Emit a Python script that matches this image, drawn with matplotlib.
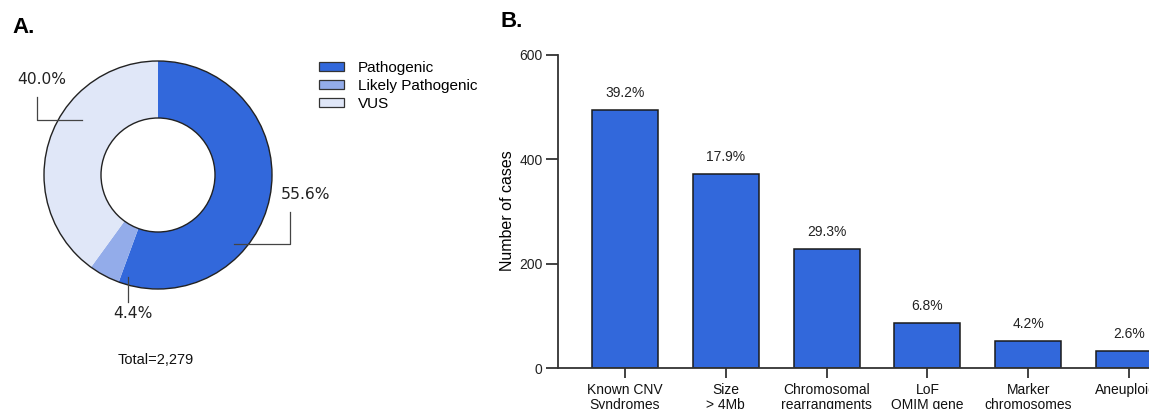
import matplotlib.pyplot as plt
from matplotlib.patches import Patch, Circle

# panel A data
pie_labels = ['Pathogenic', 'Likely Pathogenic', 'VUS']
pie_pct = [55.6, 4.4, 40.0]
pie_colors = ['#3268DB', '#93ACEA', '#E0E7F8']
total_text = 'Total=2,279'

# panel B data
categories = ['Known CNV\nSyndromes', 'Size\n> 4Mb', 'Chromosomal\nrearrangments',
              'LoF\nOMIM gene', 'Marker\nchromosomes', 'Aneuploidy']
counts = [495, 372, 228, 86, 52, 33]
bar_pct = ['39.2%', '17.9%', '29.3%', '6.8%', '4.2%', '2.6%']
bar_color = '#3268DB'

W, H = 1149, 409
fig = plt.figure(figsize=(W / 100, H / 100), dpi=100)

# ---------- A: donut ----------
R = 114.0
cx, cy = 158, 175
half = 1.3 * R
axA = fig.add_axes([(cx - half) / W, (H - cy - half) / H, 2 * half / W, 2 * half / H])
wedges, _ = axA.pie(pie_pct, colors=pie_colors, startangle=90, counterclock=False,
                    radius=1.0, wedgeprops=dict(width=0.5, linewidth=0))
axA.add_patch(Circle((0, 0), 1.0, fill=False, ec='#222222', lw=1.0))
axA.add_patch(Circle((0, 0), 0.5, fill=False, ec='#222222', lw=1.0))
axA.set_xlim(-1.3, 1.3)
axA.set_ylim(-1.3, 1.3)
axA.set_aspect('equal')
axA.axis('off')

lc = '#444444'
# leader lines + labels
axA.plot([-1.061, -1.061, -0.667], [0.684, 0.482, 0.482], color=lc, lw=0.9, clip_on=False)
axA.text(-1.02, 0.842, '40.0%', ha='center', va='center', fontsize=11.2,
         family='DejaVu Sans', color='#222222')
axA.plot([0.667, 1.158, 1.158], [-0.605, -0.605, -0.325], color=lc, lw=0.9, clip_on=False)
axA.text(1.29, -0.175, '55.6%', ha='center', va='center', fontsize=11.2,
         family='DejaVu Sans', color='#222222', clip_on=False)
axA.plot([-0.263, -0.263], [-0.895, -1.114], color=lc, lw=0.9, clip_on=False)
axA.text(-0.219, -1.219, '4.4%', ha='center', va='center', fontsize=11.2,
         family='DejaVu Sans', color='#222222', clip_on=False)

fig.text(156 / W, 1 - 360 / H, total_text, ha='center', va='center', fontsize=10.5,
         family='Liberation Sans', color='#111111')
fig.text(12 / W, 1 - 33 / H, 'A.', ha='left', va='baseline', fontsize=16,
         fontweight='bold', family='Liberation Sans')

handles = [Patch(facecolor=c, edgecolor='#333333', lw=0.9, label=l)
           for c, l in zip(pie_colors, pie_labels)]
fig.legend(handles=handles, loc='upper left', bbox_to_anchor=(319 / W, 1 - 61 / H),
           frameon=False, handlelength=1.65, handleheight=0.55,
           handletextpad=0.9, labelspacing=0.25, borderpad=0, borderaxespad=0,
           prop={'family': 'Liberation Sans', 'size': 11})

# ---------- B: bars ----------
x0, xr = 558, W
ytop, ybot = 55, 368
axB = fig.add_axes([x0 / W, (H - ybot) / H, (xr - x0) / W, (ybot - ytop) / H])
xs = list(range(len(counts)))
axB.bar(xs, counts, width=0.655, color=bar_color, edgecolor='#1a1a1a', linewidth=1.1)
for x, v, p in zip(xs, counts, bar_pct):
    axB.text(x, v + 17 * 600 / 313, p, ha='center', va='center', fontsize=10,
             family='Liberation Sans', color='#222222', clip_on=False)
axB.set_xlim(-0.665, (xr - 625) / 100.8)
axB.set_ylim(0, 600)
axB.set_yticks([0, 200, 400, 600])
axB.set_xticks(xs)
axB.set_xticklabels(categories, fontsize=10, family='Liberation Sans', linespacing=1.1)
for lab in axB.get_yticklabels():
    lab.set_family('Liberation Sans')
    lab.set_fontsize(10)
axB.spines['top'].set_visible(False)
axB.spines['right'].set_visible(False)
for s in ['left', 'bottom']:
    axB.spines[s].set_color('#333333')
    axB.spines[s].set_linewidth(1.3)
axB.tick_params(axis='y', length=9, width=1.3, color='#333333', pad=2, labelcolor='#222222')
axB.tick_params(axis='x', length=7, width=1.3, color='#333333', pad=4, labelcolor='#111111')
axB.set_ylabel('Number of cases', fontsize=11.5, family='Liberation Sans')
axB.yaxis.set_label_coords(-(558 - 515) / (xr - x0), 0.503)

fig.text(500 / W, 1 - 27 / H, 'B.', ha='left', va='baseline', fontsize=16,
         fontweight='bold', family='Liberation Sans')

fig.savefig('out.png', dpi=100)
